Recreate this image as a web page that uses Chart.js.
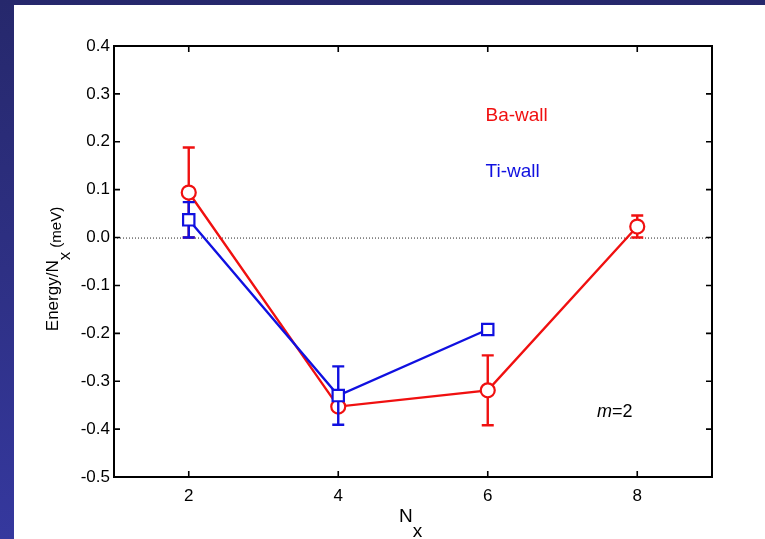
<!DOCTYPE html>
<html>
<head>
<meta charset="utf-8">
<script src="https://cdn.jsdelivr.net/npm/chart.js@4.4.1/dist/chart.umd.min.js"></script>
<style>
  html, body { margin: 0; padding: 0; }
  body {
    width: 765px; height: 539px; overflow: hidden; position: relative;
    background: linear-gradient(180deg, #26286c 0%, #2e3084 50%, #35389e 100%);
  }
  #wrap { position: absolute; left: 14px; top: 5px; width: 751px; height: 534px; background: #fff; }
</style>
</head>
<body>
<div id="wrap"><canvas id="chart" width="751" height="534"></canvas></div>
<script>
// Series: energy per N_x for the two wall terminations
const nxBa = [2, 4, 6, 8];
const energyBa = [0.094, -0.353, -0.319, 0.023];
const errBa = [0.094, 0.0, 0.073, 0.023];

const nxTi = [2, 4, 6];
const energyTi = [0.037, -0.330, -0.192];
const errTi = [0.037, 0.061, 0.0];

const xTicks = [2, 4, 6, 8];
const yTicks = [0.4, 0.3, 0.2, 0.1, 0.0, -0.1, -0.2, -0.3, -0.4, -0.5];

const RED = "#f01010";
const BLUE = "#1010e0";
const FONT = "'Liberation Sans', Arial, sans-serif";

// Text notes placed in data coordinates
const notes = [
    { text: "Ba-wall", x: 5.97, y: 0.254, color: RED },
    { text: "Ti-wall", x: 5.97, y: 0.137, color: BLUE }
];

function toPoints(xs, ys) {
    return xs.map((x, i) => ({ x: x, y: ys[i] }));
}

// Vertical error bars with caps, drawn under each dataset's line and markers
const errorBars = {
    id: "errorBars",
    beforeDatasetDraw(chart, args) {
        const ds = chart.data.datasets[args.index];
        if (!ds.errors) return;
        const xs = chart.scales.x, ys = chart.scales.y;
        const ctx = chart.ctx;
        ctx.save();
        ctx.strokeStyle = ds.borderColor;
        ctx.lineWidth = 2.4;
        ds.data.forEach((p, i) => {
            const e = ds.errors[i];
            if (!e) return;
            const px = xs.getPixelForValue(p.x);
            const top = ys.getPixelForValue(p.y + e);
            const bot = ys.getPixelForValue(p.y - e);
            ctx.beginPath();
            ctx.moveTo(px, top); ctx.lineTo(px, bot);
            ctx.moveTo(px - 6, top); ctx.lineTo(px + 6, top);
            ctx.moveTo(px - 6, bot); ctx.lineTo(px + 6, bot);
            ctx.stroke();
        });
        ctx.restore();
    }
};

// Box frame, inward ticks on all sides, dotted zero line, axis titles and notes
const frame = {
    id: "frame",
    beforeDatasetsDraw(chart) {
        const { ctx, chartArea: a } = chart;
        const ys = chart.scales.y;
        const y0 = ys.getPixelForValue(0);
        ctx.save();
        ctx.strokeStyle = "#222";
        ctx.lineWidth = 1;
        ctx.setLineDash([1, 2]);
        ctx.beginPath();
        ctx.moveTo(a.left, y0 + 0.5); ctx.lineTo(a.right, y0 + 0.5);
        ctx.stroke();
        ctx.restore();
    },
    afterDraw(chart) {
        const { ctx, chartArea: a } = chart;
        const xs = chart.scales.x, ys = chart.scales.y;
        ctx.save();
        ctx.strokeStyle = "#000";
        ctx.lineWidth = 2;
        ctx.strokeRect(a.left, a.top, a.right - a.left, a.bottom - a.top);
        ctx.lineWidth = 1.6;
        ctx.beginPath();
        xTicks.forEach(v => {
            const px = xs.getPixelForValue(v);
            ctx.moveTo(px, a.bottom); ctx.lineTo(px, a.bottom - 6);
            ctx.moveTo(px, a.top); ctx.lineTo(px, a.top + 6);
        });
        yTicks.forEach(v => {
            const py = ys.getPixelForValue(v);
            ctx.moveTo(a.left, py); ctx.lineTo(a.left + 6, py);
            ctx.moveTo(a.right, py); ctx.lineTo(a.right - 6, py);
        });
        ctx.stroke();

        // notes
        ctx.textBaseline = "middle";
        ctx.textAlign = "left";
        notes.forEach(n => {
            ctx.fillStyle = n.color;
            ctx.font = "19px " + FONT;
            ctx.fillText(n.text, xs.getPixelForValue(n.x), ys.getPixelForValue(n.y));
        });
        // m=2 with italic m
        ctx.textBaseline = "alphabetic";
        const mx = xs.getPixelForValue(7.46), my = ys.getPixelForValue(-0.375);
        ctx.fillStyle = "#000";
        ctx.font = "italic 18px " + FONT;
        ctx.fillText("m", mx, my);
        const mw = ctx.measureText("m").width;
        ctx.font = "18px " + FONT;
        ctx.fillText("=2", mx + mw, my);

        // x axis title: N with subscript x
        ctx.font = "19px " + FONT;
        const nx = (a.left + a.right) / 2 - 14;
        ctx.fillText("N", nx, a.bottom + 45);
        const nw = ctx.measureText("N").width;
        ctx.font = "19px " + FONT;
        ctx.fillText("x", nx + nw, a.bottom + 60);

        // y axis title, rotated: Energy/N_x (meV)
        ctx.translate(44, 264);
        ctx.rotate(-Math.PI / 2);
        const parts = [
            { t: "Energy/N", f: "17px " + FONT, dy: 0 },
            { t: "x", f: "17px " + FONT, dy: 12 },
            { t: " (meV)", f: "15px " + FONT, dy: 3 }
        ];
        let total = 0;
        parts.forEach(p => { ctx.font = p.f; total += ctx.measureText(p.t).width; });
        let cx = -total / 2;
        parts.forEach(p => {
            ctx.font = p.f;
            ctx.fillText(p.t, cx, p.dy);
            cx += ctx.measureText(p.t).width;
        });
        ctx.restore();
    }
};

new Chart(document.getElementById("chart"), {
    type: "line",
    data: {
        datasets: [
            {
                label: "Ba-wall",
                data: toPoints(nxBa, energyBa),
                errors: errBa,
                borderColor: RED,
                backgroundColor: "#fff",
                borderWidth: 2.4,
                pointStyle: "circle",
                pointRadius: 7,
                pointBorderWidth: 2.2,
                order: 2
            },
            {
                label: "Ti-wall",
                data: toPoints(nxTi, energyTi),
                errors: errTi,
                borderColor: BLUE,
                backgroundColor: "#fff",
                borderWidth: 2.4,
                pointStyle: "rect",
                pointRadius: 8,
                pointBorderWidth: 2.2,
                order: 1
            }
        ]
    },
    options: {
        responsive: false,
        animation: false,
        layout: { padding: { top: 41, right: 53, left: 0, bottom: 0 } },
        plugins: { legend: { display: false }, tooltip: { enabled: false } },
        scales: {
            x: {
                type: "linear",
                min: 1, max: 9,
                afterBuildTicks: s => { s.ticks = xTicks.map(v => ({ value: v })); },
                afterFit: s => { s.height = 62; },
                grid: { display: false, drawTicks: false },
                border: { display: false },
                ticks: { color: "#000", padding: 9, font: { family: FONT, size: 17 } }
            },
            y: {
                type: "linear",
                min: -0.5, max: 0.4,
                afterBuildTicks: s => { s.ticks = yTicks.map(v => ({ value: v })); },
                afterFit: s => { s.width = 100; },
                grid: { display: false, drawTicks: false },
                border: { display: false },
                ticks: {
                    color: "#000", padding: 4, font: { family: FONT, size: 17 },
                    callback: v => v.toFixed(1)
                }
            }
        }
    },
    plugins: [errorBars, frame]
});
</script>
</body>
</html>
